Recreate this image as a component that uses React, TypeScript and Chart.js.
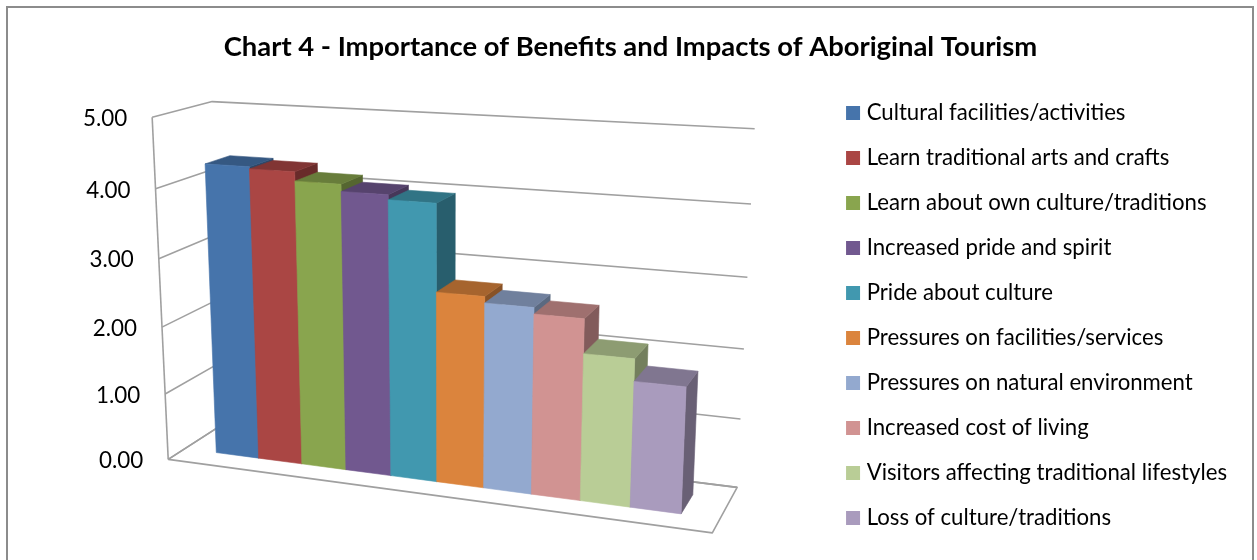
import React, { useEffect, useRef } from "react";
import { Chart, registerables } from "chart.js";

Chart.register(...registerables);

const titleText = "Chart 4 - Importance of Benefits and Impacts of Aboriginal Tourism";
const seriesNames = [
  "Cultural facilities/activities",
  "Learn traditional arts and crafts",
  "Learn about own culture/traditions",
  "Increased pride and spirit",
  "Pride about culture",
  "Pressures on facilities/services",
  "Pressures on natural environment",
  "Increased cost of living",
  "Visitors affecting traditional lifestyles",
  "Loss of culture/traditions",
];
const seriesValues = [4.3, 4.27, 4.14, 4.04, 3.97, 2.74, 2.65, 2.56, 2.08, 1.77];
const seriesColors = [
  "#4674AB", "#AA4644", "#89A54E", "#71588F", "#4198AF",
  "#DB843D", "#93A9CF", "#D19392", "#B9CD96", "#A99BBD",
];

// Camera calibration: box coordinates [across, up, depth] -> page pixels
const cameraBox = [
  [0, 0, 0], [0, 1, 0], [0, 1, 1], [0, 0, 1], [1, 0, 0], [1, 0, 1], [1, 1, 1],
  [0, 0.8, 0], [0, 0.6, 0], [1, 0.8, 1], [1, 0.4, 1],
];
const cameraPage = [
  [168, 460], [152, 117], [212, 102], [224, 423], [712, 533], [737, 487], [755, 128],
  [155, 189], [160, 258], [750, 205], [745, 349],
];
const barFront = 0.29;
const barBack = 0.72;

function solveCamera(): number[] {
  const rows: number[][] = [];
  const rhs: number[] = [];
  cameraBox.forEach(([X, Y, Z], i) => {
    const [x, y] = cameraPage[i];
    rows.push([X, Y, Z, 1, 0, 0, 0, 0, -x * X, -x * Y, -x * Z]);
    rhs.push(x);
    rows.push([0, 0, 0, 0, X, Y, Z, 1, -y * X, -y * Y, -y * Z]);
    rhs.push(y);
  });
  const n = 11;
  const A = Array.from({ length: n }, () => new Array(n + 1).fill(0));
  rows.forEach((r, k) => {
    for (let i = 0; i < n; i++) {
      for (let j = 0; j < n; j++) A[i][j] += r[i] * r[j];
      A[i][n] += r[i] * rhs[k];
    }
  });
  for (let c = 0; c < n; c++) {
    let p = c;
    for (let r = c + 1; r < n; r++) if (Math.abs(A[r][c]) > Math.abs(A[p][c])) p = r;
    [A[c], A[p]] = [A[p], A[c]];
    for (let r = 0; r < n; r++) {
      if (r === c) continue;
      const f = A[r][c] / A[c][c];
      for (let j = c; j <= n; j++) A[r][j] -= f * A[c][j];
    }
  }
  return A.map((row, i) => row[n] / row[i]);
}

const cam = solveCamera();
function project(X: number, Y: number, Z: number): [number, number] {
  const w = cam[8] * X + cam[9] * Y + cam[10] * Z + 1;
  return [
    (cam[0] * X + cam[1] * Y + cam[2] * Z + cam[3]) / w,
    (cam[4] * X + cam[5] * Y + cam[6] * Z + cam[7]) / w,
  ];
}

function shade(hex: string, f: number): string {
  const n = parseInt(hex.slice(1), 16);
  const c = [(n >> 16) & 255, (n >> 8) & 255, n & 255].map((v) => Math.round(v * f));
  return `rgb(${c[0]},${c[1]},${c[2]})`;
}

function poly(ctx: CanvasRenderingContext2D, pts: [number, number][], fill: string) {
  ctx.beginPath();
  pts.forEach((p, i) => (i ? ctx.lineTo(p[0], p[1]) : ctx.moveTo(p[0], p[1])));
  ctx.closePath();
  ctx.fillStyle = fill;
  ctx.fill();
  ctx.strokeStyle = fill;
  ctx.lineWidth = 0.6;
  ctx.stroke();
}

function line(ctx: CanvasRenderingContext2D, pts: [number, number][]) {
  ctx.beginPath();
  pts.forEach((p, i) => (i ? ctx.lineTo(p[0], p[1]) : ctx.moveTo(p[0], p[1])));
  ctx.stroke();
}

const frame3d = {
  id: "frame3d",
  beforeDraw(chart: any) {
    const { ctx, width, height } = chart;
    ctx.save();
    ctx.fillStyle = "#ffffff";
    ctx.fillRect(0, 0, width, height);
    ctx.strokeStyle = "#8c8c8c";
    ctx.lineWidth = 2;
    ctx.strokeRect(7, 7, 1246, height + 20);
    ctx.restore();
  },
  beforeDatasetsDraw(chart: any) {
    const { ctx, chartArea, scales } = chart;
    const yScale = scales.y;
    const base = yScale.getPixelForValue(0);
    const span = base - yScale.getPixelForValue(yScale.max);
    ctx.save();
    ctx.strokeStyle = "#a0a0a0";
    ctx.lineWidth = 1.6;
    ctx.lineJoin = "round";
    line(ctx, [project(0, 0, 0), project(0, 1, 0)]);
    line(ctx, [project(0, 0, 0), project(1, 0, 0), project(1, 0, 1), project(0, 0, 1), project(0, 0, 0)]);
    yScale.ticks.forEach((t: any) => {
      const v = t.value / yScale.max;
      line(ctx, [project(0, v, 0), project(0, v, 1), project(1, v, 1)]);
    });
    ctx.fillStyle = "#000000";
    ctx.font = "22.4px Lato";
    ctx.textAlign = "right";
    ctx.textBaseline = "middle";
    yScale.ticks.forEach((t: any) => {
      const [px, py] = project(0, t.value / yScale.max, 0);
      ctx.fillText(t.label, px - 25, py + 1.5);
    });
    chart.data.datasets.forEach((ds: any, i: number) => {
      const el = chart.getDatasetMeta(i).data[0];
      const u0 = (el.x - el.width / 2 - chartArea.left) / chartArea.width;
      const u1 = (el.x + el.width / 2 - chartArea.left) / chartArea.width;
      const v = (base - el.y) / span;
      const col = ds.backgroundColor as string;
      poly(ctx, [project(u1, 0, barFront), project(u1, 0, barBack), project(u1, v, barBack), project(u1, v, barFront)], shade(col, 0.62));
      poly(ctx, [project(u0, v, barFront), project(u1, v, barFront), project(u1, v, barBack), project(u0, v, barBack)], shade(col, 0.76));
      poly(ctx, [project(u0, 0, barFront), project(u1, 0, barFront), project(u1, v, barFront), project(u0, v, barFront)], col);
    });
    ctx.restore();
    return false;
  },
};

export default function App() {
  const ref = useRef<HTMLCanvasElement>(null);
  useEffect(() => {
    const chart = new Chart(ref.current!, {
      type: "bar",
      data: {
        labels: [""],
        datasets: seriesNames.map((name, i) => ({
          label: name,
          data: [seriesValues[i]],
          backgroundColor: seriesColors[i],
        })),
      },
      options: {
        responsive: false,
        animation: false,
        layout: { padding: { left: 24, right: 20, top: 31, bottom: 0 } },
        datasets: { bar: { categoryPercentage: 0.87, barPercentage: 1 } },
        scales: {
          x: { display: false, grid: { display: false } },
          y: {
            min: 0,
            max: 5,
            grid: { display: false },
            border: { display: false },
            ticks: { display: false, stepSize: 1, callback: (v: any) => Number(v).toFixed(2) },
          },
        },
        plugins: {
          tooltip: { enabled: false },
          title: {
            display: true,
            text: titleText,
            color: "#000000",
            font: { family: "Lato", size: 27.4, weight: "bold" },
            padding: { top: 0, bottom: 7 },
          },
          legend: {
            display: true,
            position: "right",
            fullSize: false,
            maxWidth: 500,
            labels: {
              color: "#000000",
              font: { family: "Lato", size: 22.2 },
              boxWidth: 5,
              boxHeight: 5,
              padding: 22.8,
              generateLabels: (c: any) =>
                Chart.defaults.plugins.legend.labels.generateLabels(c).map((it: any) => ({
                  ...it,
                  strokeStyle: it.fillStyle,
                  lineWidth: 9,
                })),
            },
          },
        },
      },
      plugins: [frame3d],
    } as any);
    return () => chart.destroy();
  }, []);
  return (
    <div style={{ position: "absolute", left: 0, top: 0, width: 1257, height: 560 }}>
      <canvas ref={ref} width={1257} height={560} style={{ display: "block" }} />
    </div>
  );
}
